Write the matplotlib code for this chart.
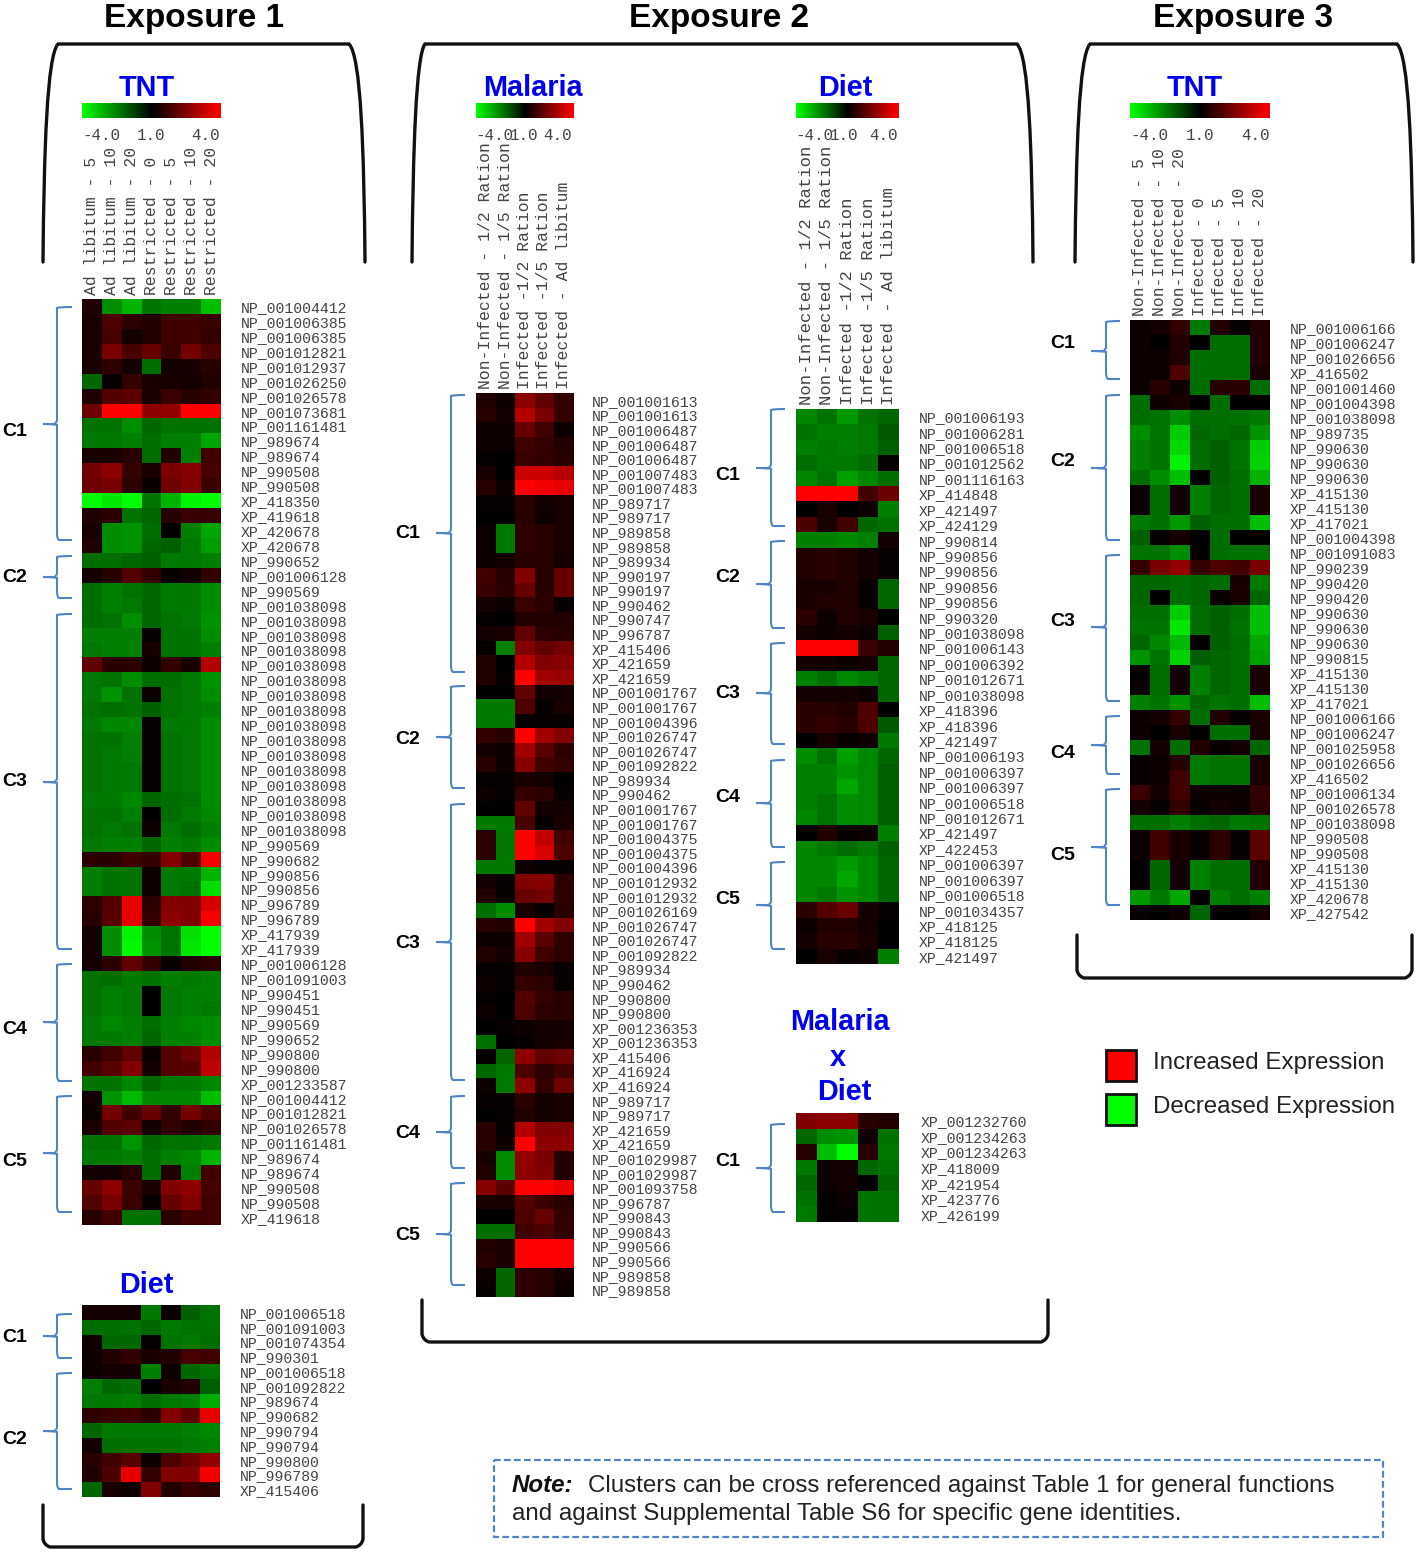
import numpy as np
import matplotlib
matplotlib.use('Agg')
import matplotlib.pyplot as plt
from matplotlib.colors import LinearSegmentedColormap
from matplotlib.path import Path
from matplotlib.patches import PathPatch, Rectangle

# column labels
tnt1_cols = ['Ad libitum - 5', 'Ad libitum - 10', 'Ad libitum - 20', 'Restricted - 0',
             'Restricted - 5', 'Restricted - 10', 'Restricted - 20']
tnt3_cols = ['Non-Infected - 5', 'Non-Infected - 10', 'Non-Infected - 20', 'Infected - 0',
             'Infected - 5', 'Infected - 10', 'Infected - 20']
ration_cols = ['Non-Infected - 1/2 Ration', 'Non-Infected - 1/5 Ration', 'Infected -1/2 Ration',
               'Infected -1/5 Ration', 'Infected - Ad libitum']

# gene labels
tnt1_genes = ['NP_001004412', 'NP_001006385', 'NP_001006385', 'NP_001012821', 'NP_001012937', 'NP_001026250',
              'NP_001026578', 'NP_001073681', 'NP_001161481', 'NP_989674', 'NP_989674', 'NP_990508', 'NP_990508',
              'XP_418350', 'XP_419618', 'XP_420678', 'XP_420678', 'NP_990652', 'NP_001006128', 'NP_990569'] \
    + ['NP_001038098'] * 16 \
    + ['NP_990569', 'NP_990682', 'NP_990856', 'NP_990856', 'NP_996789', 'NP_996789', 'XP_417939', 'XP_417939',
       'NP_001006128', 'NP_001091003', 'NP_990451', 'NP_990451', 'NP_990569', 'NP_990652', 'NP_990800', 'NP_990800',
       'XP_001233587', 'NP_001004412', 'NP_001012821', 'NP_001026578', 'NP_001161481', 'NP_989674', 'NP_989674',
       'NP_990508', 'NP_990508', 'XP_419618']
diet1_genes = ['NP_001006518', 'NP_001091003', 'NP_001074354', 'NP_990301', 'NP_001006518', 'NP_001092822',
               'NP_989674', 'NP_990682', 'NP_990794', 'NP_990794', 'NP_990800', 'NP_996789', 'XP_415406']
malaria_genes = ['NP_001001613', 'NP_001001613', 'NP_001006487', 'NP_001006487', 'NP_001006487', 'NP_001007483',
                 'NP_001007483', 'NP_989717', 'NP_989717', 'NP_989858', 'NP_989858', 'NP_989934', 'NP_990197',
                 'NP_990197', 'NP_990462', 'NP_990747', 'NP_996787', 'XP_415406', 'XP_421659', 'XP_421659',
                 'NP_001001767', 'NP_001001767', 'NP_001004396', 'NP_001026747', 'NP_001026747', 'NP_001092822',
                 'NP_989934', 'NP_990462', 'NP_001001767', 'NP_001001767', 'NP_001004375', 'NP_001004375',
                 'NP_001004396', 'NP_001012932', 'NP_001012932', 'NP_001026169', 'NP_001026747', 'NP_001026747',
                 'NP_001092822', 'NP_989934', 'NP_990462', 'NP_990800', 'NP_990800', 'XP_001236353', 'XP_001236353',
                 'XP_415406', 'XP_416924', 'XP_416924', 'NP_989717', 'NP_989717', 'XP_421659', 'XP_421659',
                 'NP_001029987', 'NP_001029987', 'NP_001093758', 'NP_996787', 'NP_990843', 'NP_990843', 'NP_990566',
                 'NP_990566', 'NP_989858', 'NP_989858']
diet2_genes = ['NP_001006193', 'NP_001006281', 'NP_001006518', 'NP_001012562', 'NP_001116163', 'XP_414848',
               'XP_421497', 'XP_424129', 'NP_990814', 'NP_990856', 'NP_990856', 'NP_990856', 'NP_990856', 'NP_990320',
               'NP_001038098', 'NP_001006143', 'NP_001006392', 'NP_001012671', 'NP_001038098', 'XP_418396',
               'XP_418396', 'XP_421497', 'NP_001006193', 'NP_001006397', 'NP_001006397', 'NP_001006518',
               'NP_001012671', 'XP_421497', 'XP_422453', 'NP_001006397', 'NP_001006397', 'NP_001006518',
               'NP_001034357', 'XP_418125', 'XP_418125', 'XP_421497']
mxd_genes = ['XP_001232760', 'XP_001234263', 'XP_001234263', 'XP_418009', 'XP_421954', 'XP_423776', 'XP_426199']
tnt3_genes = ['NP_001006166', 'NP_001006247', 'NP_001026656', 'XP_416502', 'NP_001001460', 'NP_001004398',
              'NP_001038098', 'NP_989735', 'NP_990630', 'NP_990630', 'NP_990630', 'XP_415130', 'XP_415130',
              'XP_417021', 'NP_001004398', 'NP_001091083', 'NP_990239', 'NP_990420', 'NP_990420', 'NP_990630',
              'NP_990630', 'NP_990630', 'NP_990815', 'XP_415130', 'XP_415130', 'XP_417021', 'NP_001006166',
              'NP_001006247', 'NP_001025958', 'NP_001026656', 'XP_416502', 'NP_001006134', 'NP_001026578',
              'NP_001038098', 'NP_990508', 'NP_990508', 'XP_415130', 'XP_415130', 'XP_420678', 'XP_427542']

# expression values, -4 (green) .. 4 (red)
tnt1_vals = [
    [.5, -2.2, -2.8, -1.8, -2, -2, -3], [.4, 1.2, .7, .5, 1, 1, .9], [.4, 1.1, .3, .5, 1, 1, .8],
    [.4, 1.9, 1.1, 1.6, .9, 1.8, 1.2], [.4, .7, .3, -1.7, .3, .4, .6], [-1.6, .1, .8, .4, .4, .3, .5],
    [.5, 1.3, 1.4, .4, .9, .6, .8], [1.7, 4, 4, 2.2, 2.3, 4, 4], [-1.8, -1.8, -2.2, -1.6, -1.8, -1.8, -1.8],
    [-1.9, -1.9, -2, -1.7, -2, -2, -2.6], [.4, .4, .6, -1.7, .5, -2, 1], [1.8, 2.2, .8, .4, 1.9, 2.1, 1.1],
    [1.7, 1.9, .7, .1, 1.7, 2, .9], [-4, -3.6, -4, -1.8, -2.8, -3.8, -4], [.5, .7, -1.8, -1.6, .6, .9, .9],
    [.4, -2.2, -2.3, -1.7, 0, -2, -2.6], [.5, -2.2, -2.3, -1.6, -1.5, -1.9, -2.5],
    [-1.7, -1.7, -1.6, -1.5, -1.9, -1.9, -2], [.3, .6, 1.3, .8, .1, .3, .8], [-1.7, -2, -1.8, -1.6, -1.9, -1.9, -2.2],
    [-1.7, -2, -1.9, -1.6, -1.9, -1.9, -2.2], [-1.7, -1.8, -2.2, -1.6, -1.8, -1.9, -2.3],
    [-2, -2, -2, .1, -1.8, -1.8, -2.2], [-1.9, -2, -2, .4, -1.8, -1.8, -2], [1.5, .7, .7, .2, .8, .4, 2.8],
    [-1.9, -1.8, -2.2, -1.7, -1.7, -1.9, -2.3], [-1.9, -2.3, -1.8, .2, -1.8, -1.9, -2.2],
    [-1.8, -1.7, -1.8, -1.5, -1.8, -1.9, -2], [-1.9, -2.1, -2.1, .1, -1.9, -1.9, -2.2],
    [-1.8, -1.8, -2, .1, -1.8, -1.9, -2.2], [-1.8, -1.9, -2, .1, -1.8, -1.9, -2.2],
    [-1.8, -1.9, -1.9, .1, -1.8, -1.9, -2.2], [-1.8, -1.9, -1.9, .1, -1.8, -1.9, -2.2],
    [-1.9, -1.9, -2.1, -1.6, -1.7, -1.8, -2.2], [-1.8, -1.8, -2, 0, -1.7, -1.9, -2.1],
    [-1.8, -1.9, -1.8, .2, -1.9, -1.7, -2], [-1.9, -2, -2, -1.6, -2, -1.9, -2.2], [.7, .7, 1, .8, 2, 1.2, 3.8],
    [-2, -1.8, -1.8, .2, -1.9, -1.9, -2.8], [-2, -1.8, -1.8, .2, -1.9, -1.8, -3.5], [.7, 1.3, 3.6, .7, 2, 2, 3.4],
    [.6, 1.4, 3.6, .8, 2.2, 2, 3.8], [.3, -2.2, -3.8, -2.2, -1.8, -3.5, -4], [.3, -2.2, -3.9, -2.3, -1.8, -3.6, -4],
    [.3, .7, 1.5, .8, .1, .5, .7], [-1.8, -1.7, -1.9, -1.8, -2, -1.9, -2], [-1.8, -2, -1.9, 0, -1.9, -2, -2],
    [-1.8, -2, -1.9, 0, -1.9, -2, -1.9], [-1.9, -2.1, -2, -1.7, -2, -2.1, -2.2], [-1.9, -1.9, -2, -1.6, -2, -2, -2.2],
    [.6, 1, 1.5, .2, 1.3, 1.7, 2.8], [1, 1.4, 2, .3, 1.3, 1.4, 3], [-1.8, -1.8, -2.1, -1.6, -1.9, -1.9, -2.1],
    [.3, -2.3, -2.9, -2.1, -2.1, -2.1, -3], [.2, 1.8, 1, 1.6, .8, 1.8, 1.2], [.4, 1.3, 1.4, .3, .8, .5, .8],
    [-1.8, -1.8, -2.3, -1.6, -1.8, -1.8, -1.9], [-1.9, -1.9, -2, -1.7, -2, -2.1, -2.8], [.3, .3, .6, -1.7, .5, -2, 1],
    [1.6, 2.2, .9, .4, 2, 2.2, 1.1], [1.3, 1.9, .9, .1, 1.6, 2, 1], [.6, 1, -1.8, -1.8, .7, 1, 1]]
diet1_vals = [
    [.3, .3, .3, -1.9, .2, -1.5, -1.8], [-1.7, -1.7, -1.8, -1.6, -1.9, -1.8, -1.8], [.2, -1.6, -1.6, .1, -1.8, -1.9, -1.7],
    [.2, .5, .8, .4, .5, 1.1, 1], [.2, .3, .3, -2, .2, -1.6, -1.8], [-2, -1.6, -1.7, 0, .4, .5, -1.5],
    [-1.9, -1.9, -2, -1.7, -1.9, -2, -2.7], [.7, .9, 1, .7, 2, 1.5, 3.6], [-1.6, -1.9, -1.9, -1.9, -1.9, -2, -2.1],
    [.3, -1.7, -1.8, -1.8, -1.8, -1.9, -2], [.6, 1, 1.4, .2, 1.2, 1.7, 2.3], [.5, 1.2, 3.6, .8, 2, 2, 3.8],
    [-1.6, .4, .2, 2, .5, .9, .7]]
malaria_vals = [
    [.5, .2, 2.2, 1.5, .8], [.6, .3, 2.8, 1.9, .8], [.2, .2, 1.6, 1, .2], [.2, .2, 1, .8, .5], [.1, 0, .9, .8, .6],
    [.4, 0, 3.2, 3.2, 2.9], [.6, .2, 4, 3.8, 3.6], [.1, .1, .7, .3, .4], [0, 0, .6, .2, .4], [.2, -1.9, .7, .6, .4],
    [.2, -1.9, .7, .6, .4], [.2, .3, .6, .6, .3], [1, .6, 2, .6, 1.6], [.9, .7, 1.6, .6, 1.6], [.3, .2, .9, .7, .1],
    [.1, 0, .5, .5, .5], [.3, .4, 1.5, .7, .6], [.1, -2, 2, 1.5, 1.8], [.5, 0, 2.8, 2, 2.1], [.5, .1, 4, 2.5, 2.4],
    [0, 0, 1.5, .3, .3], [-1.9, -1.9, 1.2, .1, .4], [-1.9, -1.9, .1, .1, .1], [.8, .6, 4, 2.5, 2], [.3, .2, 2.5, 1.4, .7],
    [.6, .2, 2.1, 1, .8], [.1, .1, .4, .3, 0], [.2, .1, .8, .7, .1], [0, 0, 1.5, .3, .3], [-1.9, -1.9, 1.1, .1, .4],
    [.7, -1.9, 4, 3, 1], [.7, -1.9, 4, 3.4, 1.2], [-1.9, -1.9, .2, .1, .1], [.3, .1, 2, 2.1, .7], [.5, .1, 1.6, 1.8, .7],
    [-1.7, -2.2, .4, .1, .6], [.6, .5, 4, 2.5, 2], [.2, .2, 2.5, 1.4, .7], [.5, .3, 2.1, 1, .7], [.1, .1, .5, .4, .1],
    [.2, .1, .8, .7, .1], [.1, 0, 1.3, .8, .6], [.2, 0, 1.2, .7, .6], [0, .1, .2, .3, .3], [-1.8, 0, .1, .3, .4],
    [.1, -1.6, 2.2, 1.5, 1.7], [-1.6, -1.9, 1.2, .7, 1], [.2, -1.9, 2.2, .8, 1.7], [.1, .1, .7, .3, .4], [0, .1, .5, .3, .4],
    [.6, .1, 2.8, 2, 2], [.6, .2, 4, 2.2, 2.2], [.4, -2.2, 2.3, 1.9, .5], [.5, -2.2, 2.2, 2, .5], [2.1, 1.4, 4, 4, 3.7],
    [.4, .4, 1.3, .9, .6], [0, 0, 1.2, 1.6, .8], [-1.7, -1.7, 1, 1.2, .8], [.5, .4, 4, 4, 4], [.6, .4, 4, 4, 4],
    [.2, -1.6, .7, .6, .3], [.1, -1.6, .7, .6, .2]]
diet2_vals = [
    [-2.1, -1.8, -2.4, -1.8, -1.6], [-1.8, -2, -2, -1.9, -1.4], [-2, -1.9, -2, -1.9, -1.5], [-1.7, -1.9, -1.9, -1.7, .1],
    [-2.1, -1.8, -2.5, -2.1, -1.7], [4, 4, 4, 1, 1.7], [0, .4, 0, .2, -2], [1.2, .4, 1, -1.6, -1.8], [-2, -2, -2.1, -2, .3],
    [.5, .6, .5, .3, .1], [.5, .7, .5, .3, .1], [.4, .4, .5, .1, -1.6], [.4, .5, .5, .1, -1.6], [.7, .2, .5, .4, 0],
    [.3, .2, .3, .2, -1.5], [4, 4, 4, .9, .5], [.3, .3, .2, .3, -1.6], [-2, -1.7, -2.1, -1.9, -1.6], [.3, .3, .3, .2, -1.6],
    [.7, .6, .5, 1.2, 0], [.7, .8, .6, 1.2, -1.4], [0, .4, .1, .2, -1.9], [-2.2, -1.8, -2.5, -2.1, -1.6],
    [-2, -2, -2.3, -2.1, -1.5], [-2, -2, -2.6, -2.1, -1.5], [-2, -1.8, -2.2, -2.1, -1.5], [-2.1, -1.8, -2.2, -2.1, -1.5],
    [0, .5, .1, .2, -2], [-2.1, -1.9, -1.7, -1.9, -1.5], [-2.1, -2.1, -2.4, -2.1, -1.6], [-2.1, -2.1, -2.6, -2.1, -1.6],
    [-2.1, -1.9, -2.3, -2.1, -1.6], [.7, 1.3, 1.6, .3, .1], [.2, .5, .5, .3, 0], [.3, .6, .6, .4, 0], [0, .4, .1, .2, -2]]
mxd_vals = [
    [2, 2.2, 2.2, .6, .5], [-1.6, -2.2, -2.3, .2, -1.8], [.6, -3, -4, .6, -1.9], [-1.9, .2, .3, -1.6, -1.8],
    [-1.6, .2, .3, 0, -1.6], [-1.8, 0, .2, -1.8, -1.8], [-1.9, 0, .1, -1.8, -1.8]]
tnt3_vals = [
    [.2, .3, .8, -1.9, .5, .1, .5], [.2, 0, .5, 0, -1.7, -1.7, .5], [.2, .2, .5, -1.7, -1.7, -1.7, .5],
    [.2, .2, 1.2, -1.7, -1.7, -1.7, .4], [.2, .6, .2, -1.7, .6, .7, -1.7], [-1.7, .2, .4, 0, -1.7, 0, 0],
    [-1.7, -1.8, -2.2, -1.7, -1.7, -1.8, -1.9], [-2.2, -1.8, -3.2, -1.6, -1.7, -1.6, -2.3],
    [-2, -1.8, -3.4, -1.7, -1.5, -1.8, -3.2], [-2, -1.8, -3.8, -1.7, -1.5, -1.8, -3.3],
    [-1.7, -2.2, -3, 0, -1.5, -1.7, -2.8], [.1, -1.7, .3, -2, -1.6, -1.7, .4], [.1, -1.7, .3, -2, -1.6, -1.7, .4],
    [-1.9, -1.7, -2.4, -1.5, -1.7, -1.7, -3], [-1.5, .1, .3, 0, -1.7, 0, 0], [-1.8, -1.8, -2.2, 0, -1.7, -1.8, -1.8],
    [.8, 1.9, 2.3, .8, 1.2, 1, 1.9], [-1.6, -1.6, -1.7, -1.6, -1.7, .4, -1.9], [-1.6, 0, -1.7, -1.6, .1, .4, -1.6],
    [-1.7, -1.7, -3.2, -1.7, -1.5, -1.7, -3], [-1.8, -1.8, -3.6, -1.7, -1.5, -1.8, -3], [-1.6, -2.1, -2.9, 0, -1.5, -1.7, -2.6],
    [-2.3, -1.8, -3.3, -1.5, -1.6, -1.7, -2.5], [0, -1.7, .3, -2, -1.6, -1.7, .4], [.1, -1.7, .3, -2, -1.6, -1.7, .4],
    [-2, -1.8, -2.3, -1.6, -1.8, -1.7, -3], [.2, .3, .8, -1.7, .5, .1, .4], [.2, 0, .4, 0, -1.7, -1.7, .4],
    [-1.8, .3, -1.7, .5, .1, .3, -1.6], [.1, .2, .6, -1.9, -1.8, -1.8, .4], [.1, .2, 1, -1.9, -1.8, -1.8, .4],
    [.9, .3, 1, .2, .2, .2, .8], [.3, .1, .8, .1, .3, .2, .7], [-1.7, -1.7, -2, -1.7, -1.6, -1.9, -1.8],
    [.2, 1, .4, .1, .7, .1, 1.4], [.2, 1, .4, .1, .7, .1, 1.4], [0, -1.6, .3, -2, -1.7, -1.7, .5],
    [.1, -1.6, .3, -2, -1.7, -1.7, .5], [-2.4, -1.9, -2.6, 0, -2, -1.7, -2], [.1, 0, .2, -1.6, 0, 0, .3]]

W, H = 1418, 1552
MONO = 'Liberation Mono'
SANS = 'Liberation Sans'
TXT = '#444444'
BRACE = '#4f85c6'
cmap = LinearSegmentedColormap.from_list('gbr', ['#00ff00', '#000000', '#ff0000'])

fig = plt.figure(figsize=(W / 100, H / 100), dpi=100)


def px_axes(x0, y0, x1, y1):
    return fig.add_axes([x0 / W, 1 - y1 / H, (x1 - x0) / W, (y1 - y0) / H])


# pixel overlay for titles, braces and frames
over = px_axes(0, 0, W, H)
over.set_xlim(0, W)
over.set_ylim(H, 0)
over.axis('off')


def heatmap(box, vals, genes, cols=None, pad=14, col_size=11.8):
    ax = px_axes(*box)
    ax.imshow(np.array(vals), cmap=cmap, vmin=-4, vmax=4, aspect='auto', interpolation='nearest')
    ax.set_yticks(range(len(genes)))
    ax.set_yticklabels(genes, family=MONO, fontsize=10.7, color=TXT)
    ax.yaxis.tick_right()
    ax.tick_params(axis='y', length=0, pad=pad)
    if cols:
        ax.xaxis.tick_top()
        ax.set_xticks(range(len(cols)))
        ax.set_xticklabels(cols, rotation=90, family=MONO, fontsize=col_size, color=TXT)
        ax.tick_params(axis='x', length=0, pad=3)
    else:
        ax.set_xticks([])
    for s in ax.spines.values():
        s.set_visible(False)
    return ax


def scale_bar(x0, x1, tick_x):
    ax = px_axes(x0, 103, x1, 118)
    ax.imshow(np.linspace(-4, 4, 120)[None, :], cmap=cmap, vmin=-4, vmax=4, aspect='auto')
    ax.axis('off')
    for x, s in zip(tick_x, ['-4.0', '1.0', '4.0']):
        over.text(x, 135, s, family=MONO, fontsize=11.4, color=TXT, ha='center', va='center')


def brace(x_tip, x_spine, x_end, top, mid, bot):
    verts = [(x_end, top), (x_spine + 2, top), (x_spine, top + 1), (x_spine, top + 7),
             (x_spine, mid - 4), (x_spine, mid - 1), (x_spine - 3, mid), (x_tip, mid),
             (x_spine - 3, mid), (x_spine, mid + 1), (x_spine, mid + 4),
             (x_spine, bot - 7), (x_spine, bot - 1), (x_spine + 2, bot), (x_end, bot)]
    codes = [Path.MOVETO, Path.CURVE3, Path.CURVE3, Path.LINETO,
             Path.LINETO, Path.CURVE3, Path.CURVE3, Path.LINETO,
             Path.CURVE3, Path.CURVE3, Path.LINETO,
             Path.LINETO, Path.CURVE3, Path.CURVE3, Path.LINETO]
    over.add_patch(PathPatch(Path(verts, codes), fc='none', ec=BRACE, lw=1.5))


def clusters(x_label, x_tip, x_spine, x_end, rows):
    for name, top, mid, bot, y_label in rows:
        brace(x_tip, x_spine, x_end, top, mid, bot)
        over.text(x_label - 1, y_label + 2, name, family=SANS, weight='bold', fontsize=14,
                  color='black', ha='left', va='center')


def frame(verts, codes):
    over.add_patch(PathPatch(Path(verts, codes), fc='none', ec='#111111', lw=2.4, capstyle='round'))


def top_frame(x0, x1, x2, x3):
    M, L, C = Path.MOVETO, Path.LINETO, Path.CURVE4
    frame([(x0, 262), (x0 + 1, 150), (x0 + 4, 56), (x1, 44), (x2, 44), (x3 - 4, 56), (x3 - 1, 150), (x3, 262)],
          [M, C, C, C, L, C, C, C])


def bottom_frame(x0, x1, y0, y1):
    M, L, Q = Path.MOVETO, Path.LINETO, Path.CURVE3
    frame([(x0, y0), (x0, y1 - 8), (x0 + 1, y1 - 2), (x0 + 7, y1), (x1 - 7, y1), (x1 - 1, y1 - 2), (x1, y1 - 8), (x1, y0)],
          [M, L, Q, Q, L, Q, Q, L])


def blue(x, y, s):
    over.text(x, y + 2, s, family=SANS, weight='bold', fontsize=20.8, color='#0000f0', ha='center', va='center')


# heat maps
heatmap((82, 299, 221, 1225), tnt1_vals, tnt1_genes, tnt1_cols)
heatmap((82, 1305, 220, 1497), diet1_vals, diet1_genes)
heatmap((476, 393, 573, 1297), malaria_vals, malaria_genes, ration_cols, pad=13.5)
heatmap((796, 409, 899, 964), diet2_vals, diet2_genes, ration_cols, col_size=12.4)
heatmap((796, 1113, 899, 1222), mxd_vals, mxd_genes, pad=15.5)
heatmap((1130, 320, 1270, 920), tnt3_vals, tnt3_genes, tnt3_cols)

scale_bar(82, 221, [101, 151, 206])
scale_bar(476, 573, [494, 524, 558])
scale_bar(796, 899, [814, 844, 883])
scale_bar(1130, 1270, [1149, 1200, 1255])

# cluster braces
clusters(3, 43, 57, 72, [('C1', 307, 424, 540, 430), ('C2', 556, 577, 598, 576), ('C3', 614, 782, 949, 780),
                         ('C4', 964, 1022, 1081, 1028), ('C5', 1096, 1153, 1212, 1159)])
clusters(3, 43, 57, 72, [('C1', 1314, 1336, 1358, 1335), ('C2', 1373, 1431, 1489, 1437)])
clusters(396, 436, 451, 465, [('C1', 395, 533, 672, 532), ('C2', 686, 737, 788, 737), ('C3', 804, 942, 1080, 941),
                              ('C4', 1096, 1132, 1168, 1131), ('C5', 1183, 1234, 1285, 1233)])
clusters(716, 756, 771, 785, [('C1', 409, 468, 526, 473), ('C2', 541, 584, 628, 576), ('C3', 643, 693, 744, 692),
                              ('C4', 760, 803, 847, 795), ('C5', 862, 905, 949, 897)])
clusters(716, 756, 771, 785, [('C1', 1124, 1168, 1212, 1160)])
clusters(1051, 1091, 1106, 1120, [('C1', 321, 351, 379, 342), ('C2', 395, 468, 540, 459), ('C3', 555, 627, 701, 620),
                                  ('C4', 716, 745, 774, 751), ('C5', 789, 847, 905, 853)])

# titles
for x, s in [(194, 'Exposure 1'), (719, 'Exposure 2'), (1243, 'Exposure 3')]:
    over.text(x, 18, s, family=SANS, weight='bold', fontsize=24, color='black', ha='center', va='center')
blue(147, 86, 'TNT')
blue(146, 1283, 'Diet')
blue(533, 86, 'Malaria')
blue(845, 86, 'Diet')
blue(840, 1020, 'Malaria')
blue(838, 1056, 'x')
blue(844, 1090, 'Diet')
blue(1195, 86, 'TNT')

# frames
top_frame(43, 58, 349, 365)
top_frame(412, 425, 1017, 1033)
top_frame(1075, 1090, 1397, 1413)
bottom_frame(43, 363, 1505, 1547)
bottom_frame(422, 1048, 1300, 1342)
bottom_frame(1077, 1412, 935, 978)

# legend
for y, c, s in [(1050, '#ff0000', 'Increased Expression'), (1094, '#00ff00', 'Decreased Expression')]:
    over.add_patch(Rectangle((1106, y), 30, 31, fc=c, ec='#111111', lw=2))
    over.text(1153, y + 13, s, family=SANS, fontsize=17.4, color='#222222', ha='left', va='center')

# note box
over.add_patch(Rectangle((494, 1460), 889, 77, fc='none', ec=BRACE, lw=1.6, ls=(0, (3, 1.5))))
over.text(512, 1486, 'Note:', family=SANS, weight='bold', style='italic', fontsize=17.4, color='#111111', va='center')
over.text(588, 1486, 'Clusters can be cross referenced against Table 1 for general functions',
          family=SANS, fontsize=17.4, color='#222222', va='center')
over.text(512, 1514, 'and against Supplemental Table S6 for specific gene identities.',
          family=SANS, fontsize=17.4, color='#222222', va='center')

fig.savefig('out.png', dpi=100)
